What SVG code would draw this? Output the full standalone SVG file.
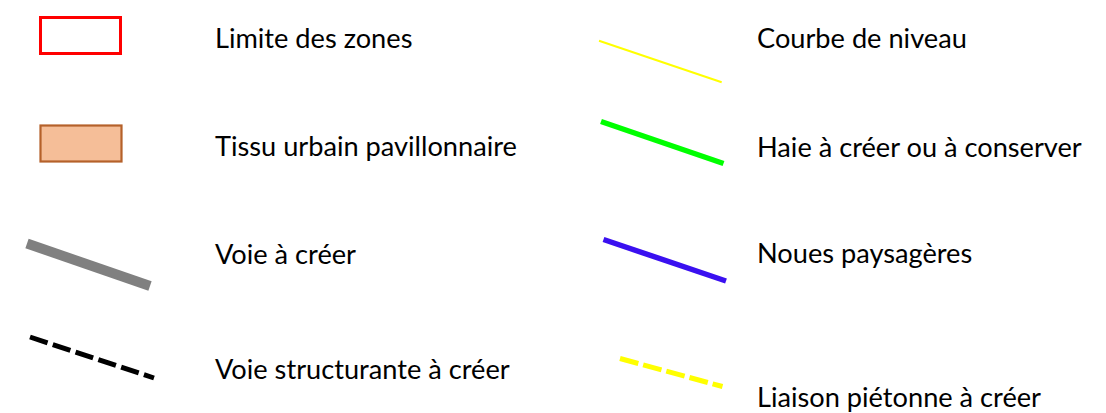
<svg xmlns="http://www.w3.org/2000/svg" width="1106" height="413" viewBox="0 0 1106 413">
<style>
.lbl{font-family:Lato,"Open Sans","Liberation Sans",sans-serif;font-size:27.2px;fill:#000}
.sym{fill:none;stroke-linecap:butt}
</style>
<rect width="1106" height="413" fill="#fff"/>
<g id="limite-des-zones">
<rect x="40.5" y="17.5" width="80" height="36" fill="#fff" stroke="#ff0000" stroke-width="3"/>
<text class="lbl" x="215" y="48">Limite des zones</text>
</g>
<g id="tissu-urbain">
<rect x="40.5" y="125.5" width="81" height="36" fill="#f5be98" stroke="#b5612a" stroke-width="2.2"/>
<text class="lbl" x="215" y="156">Tissu urbain pavillonnaire</text>
</g>
<g id="voie-a-creer">
<line class="sym" x1="27" y1="243.5" x2="150" y2="286" stroke="#808080" stroke-width="10"/>
<text class="lbl" x="215" y="263.5">Voie à créer</text>
</g>
<g id="voie-structurante">
<line class="sym" x1="30" y1="337" x2="154" y2="378" stroke="#000" stroke-width="5" stroke-dasharray="18.5 5.5"/>
<text class="lbl" x="215" y="379">Voie structurante à créer</text>
</g>
<g id="courbe-de-niveau">
<line class="sym" x1="599" y1="40.7" x2="721.7" y2="82.3" stroke="#ffff00" stroke-width="2"/>
<text class="lbl" x="757" y="48">Courbe de niveau</text>
</g>
<g id="haie">
<line class="sym" x1="601" y1="121.5" x2="723.5" y2="163.5" stroke="#00ff00" stroke-width="5.5"/>
<text class="lbl" x="757" y="156.5">Haie à créer ou à conserver</text>
</g>
<g id="noues">
<line class="sym" x1="603.5" y1="239.5" x2="726" y2="281" stroke="#3a10f0" stroke-width="5.5"/>
<text class="lbl" x="757" y="262.5">Noues paysagères</text>
</g>
<g id="liaison-pietonne">
<line class="sym" x1="620" y1="358.5" x2="722.5" y2="386.5" stroke="#ffff00" stroke-width="5" stroke-dasharray="19 5"/>
<text class="lbl" x="757" y="407">Liaison piétonne à créer</text>
</g>
</svg>
